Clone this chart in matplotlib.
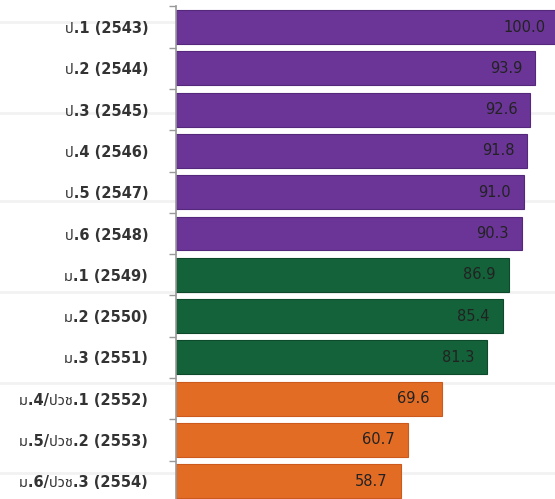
import matplotlib
matplotlib.use("Agg")
import matplotlib.pyplot as plt
from matplotlib import font_manager
from matplotlib.lines import Line2D
from matplotlib.ticker import FixedLocator

categories = ["ป.1 (2543)", "ป.2 (2544)", "ป.3 (2545)", "ป.4 (2546)", "ป.5 (2547)",
              "ป.6 (2548)", "ม.1 (2549)", "ม.2 (2550)", "ม.3 (2551)",
              "ม.4/ปวช.1 (2552)", "ม.5/ปวช.2 (2553)", "ม.6/ปวช.3 (2554)"]
values = [100.0, 93.9, 92.6, 91.8, 91.0, 90.3, 86.9, 85.4, 81.3, 69.6, 60.7, 58.7]
groups = ["p"] * 6 + ["m"] * 3 + ["u"] * 3
group_colors = {"p": "#6a3597", "m": "#14623a", "u": "#e36c25"}
group_edges = {"p": "#55287c", "m": "#0d4a2b", "u": "#cc5a1c"}

# find a font with Thai glyphs (prefer a bold face)
thai_family = None
try:
    from fontTools.ttLib import TTFont
    prefs = ["Tahoma", "Noto Sans Thai", "Noto Sans Thai UI", "Loma", "Garuda", "Sarabun", "Kinnari"]
    cands = []
    for f in font_manager.fontManager.ttflist:
        try:
            tt = TTFont(f.fname, fontNumber=0, lazy=True)
            cmap = tt.getBestCmap()
            if cmap and 0x0E1B in cmap and 0x0E21 in cmap:
                cands.append(f)
        except Exception:
            pass
    if cands:
        cands.sort(key=lambda f: (prefs.index(f.name) if f.name in prefs else 99))
        thai_family = cands[0].name
except Exception:
    pass

fams = ["DejaVu Sans"] + ([thai_family] if thai_family else [])
plt.rcParams["font.family"] = fams

fig = plt.figure(figsize=(5.55, 4.99), dpi=100)
ax = fig.add_axes([176 / 555, 0, 1 - 176 / 555, 1 - 6.5 / 499])
ax.patch.set_visible(False)

ypos = list(range(len(categories)))
colors = [group_colors[g] for g in groups]
edges = [group_edges[g] for g in groups]
ax.barh(ypos, values, height=0.82, color=colors, edgecolor=edges, linewidth=0.8, zorder=2)

for y, v in zip(ypos, values):
    ax.annotate(f"{v:.1f}", xy=(v, y), xytext=(-9.5, 0), textcoords="offset points",
                ha="right", va="center", fontsize=10.5, color="#222222",
                annotation_clip=False, zorder=3)

ax.set_xlim(0, 99)
ax.set_ylim(11.43, -0.5)
ax.set_yticks(ypos)
ax.set_yticklabels(categories, fontsize=10.5, color="#333333", fontweight="bold")
ax.tick_params(axis="y", which="major", length=0, pad=20)
ax.yaxis.set_minor_locator(FixedLocator([i - 0.5 for i in range(len(categories) + 1)]))
ax.tick_params(axis="y", which="minor", length=5, color="#999999", width=1)
ax.set_xticks([])
for s in ["top", "right", "bottom"]:
    ax.spines[s].set_visible(False)
ax.spines["left"].set_color("#9a9a9a")
ax.spines["left"].set_linewidth(1.2)

# faint horizontal scan lines in the background of the source image
for yp in [22, 113, 201, 292, 383, 473]:
    fig.add_artist(Line2D([0, 1], [1 - yp / 499] * 2, transform=fig.transFigure,
                          color="#000000", alpha=0.05, linewidth=2, zorder=0))

fig.savefig("out.png", dpi=100)
